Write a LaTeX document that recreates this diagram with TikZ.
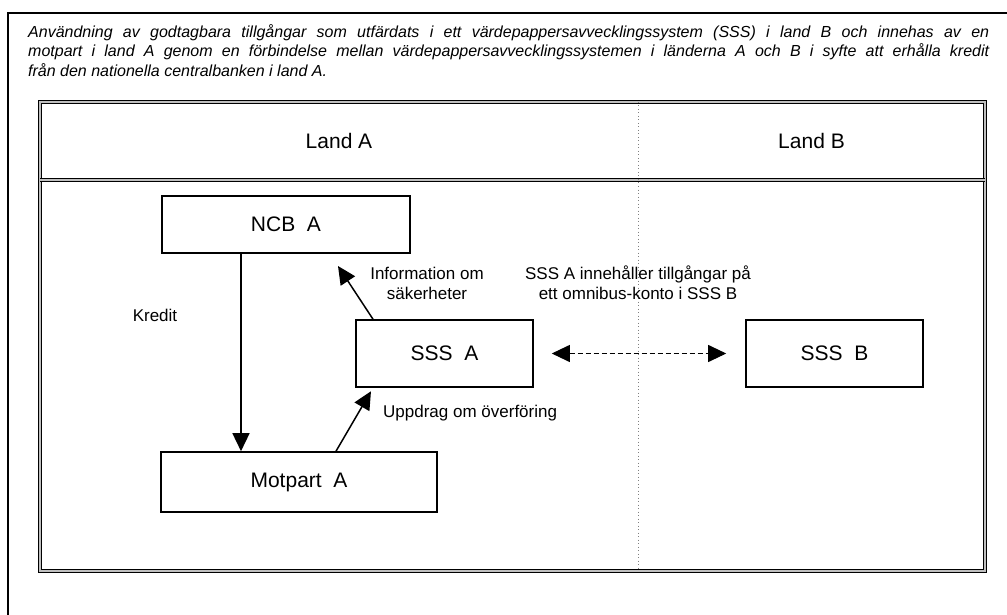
\documentclass[tikz,border=0pt]{standalone}
\usepackage{fontspec}
\setmainfont{Liberation Sans}
\usetikzlibrary{arrows.meta}
\usetikzlibrary{positioning}
\tikzstyle{sysbox} = [draw, line width=1.6pt, inner sep=0pt,
    font=\fontsize{21}{25}\selectfont]
\tikzstyle{lbl} = [inner sep=0pt, align=center, font=\fontsize{17}{20}\selectfont]
\tikzstyle{frame} = [double=lightgray, double distance=1.4pt, line width=1.4pt]
\tikzset{>={Triangle[length=18pt,width=17pt]}}

\begin{document}
\begin{tikzpicture}[x=1pt, y=-1pt]
    \useasboundingbox[fill=white] (0,0) rectangle (1007,615);
    %outer frame and title
    \draw[line width=2pt] (1007,13) -- (8,13) -- (8,615);
    \node[anchor=north west, inner sep=0pt, text width=961pt, align=justify,
        font=\fontsize{16}{19.5}\selectfont\itshape] (title) at (28,24)
        {Användning av godtagbara tillgångar som utfärdats i ett värdepappersavvecklingssystem (SSS) i land B och innehas av en\linebreak
        motpart i land A genom en förbindelse mellan värdepappersavvecklingssystemen i länderna A och B i syfte att erhålla kredit\linebreak
        från den nationella centralbanken i land A.};
    %countries
    \coordinate (tl) at (40,102);
    \coordinate (br) at (985,571);
    \draw[frame] (tl) rectangle (br);
    \draw[frame] (40,180) -- (985,180);
    \draw[gray, line width=1pt, dash pattern=on 1pt off 2.5pt] (638,102) -- (638,571);
    \node[sysbox, draw=none] (landa) at (339,141) {Land A};
    \node[sysbox, draw=none] (landb) at (811.5,141) {Land B};
    %systems
    \node[sysbox, minimum width=248pt, minimum height=57pt] (ncb) at (286,224.5) {NCB\ \ A};
    \node[sysbox, minimum width=177pt, minimum height=67pt] (sssa) at (444.5,353.5) {SSS\ \ A};
    \node[sysbox, minimum width=177pt, minimum height=67pt] (sssb) at (834.5,353.5) {SSS\ \ B};
    \node[sysbox, minimum width=276pt, minimum height=60pt] (mot) at (299,482) {Motpart\ \ A};
    %arrows
    \coordinate (infotip) at (338,266);
    \draw[->, line width=1.5pt] ([xshift=-45pt]ncb.south) -- ([xshift=-45pt]ncb.south |- mot.north);
    \draw[->, line width=1.5pt] ([xshift=-71.5pt]sssa.north) -- (infotip);
    \draw[->, line width=1.5pt, shorten >=4pt] ([xshift=37pt]mot.north) -- ([xshift=-71.5pt]sssa.south);
    \draw[<->, line width=1pt, dash pattern=on 5pt off 3pt, shorten <=18pt, shorten >=19pt] (sssa) -- (sssb);
    %labels
    \node[lbl] (kredit) at (155,315) {Kredit};
    \node[lbl] (info) at (427,283) {Information om\\säkerheter};
    \node[lbl] (omnibus) at (638,283) {SSS A innehåller tillgångar på\\ett omnibus-konto i SSS B};
    \node[lbl, anchor=west] (uppdrag) at (383,413) {Uppdrag om överföring};
\end{tikzpicture}
\end{document}
